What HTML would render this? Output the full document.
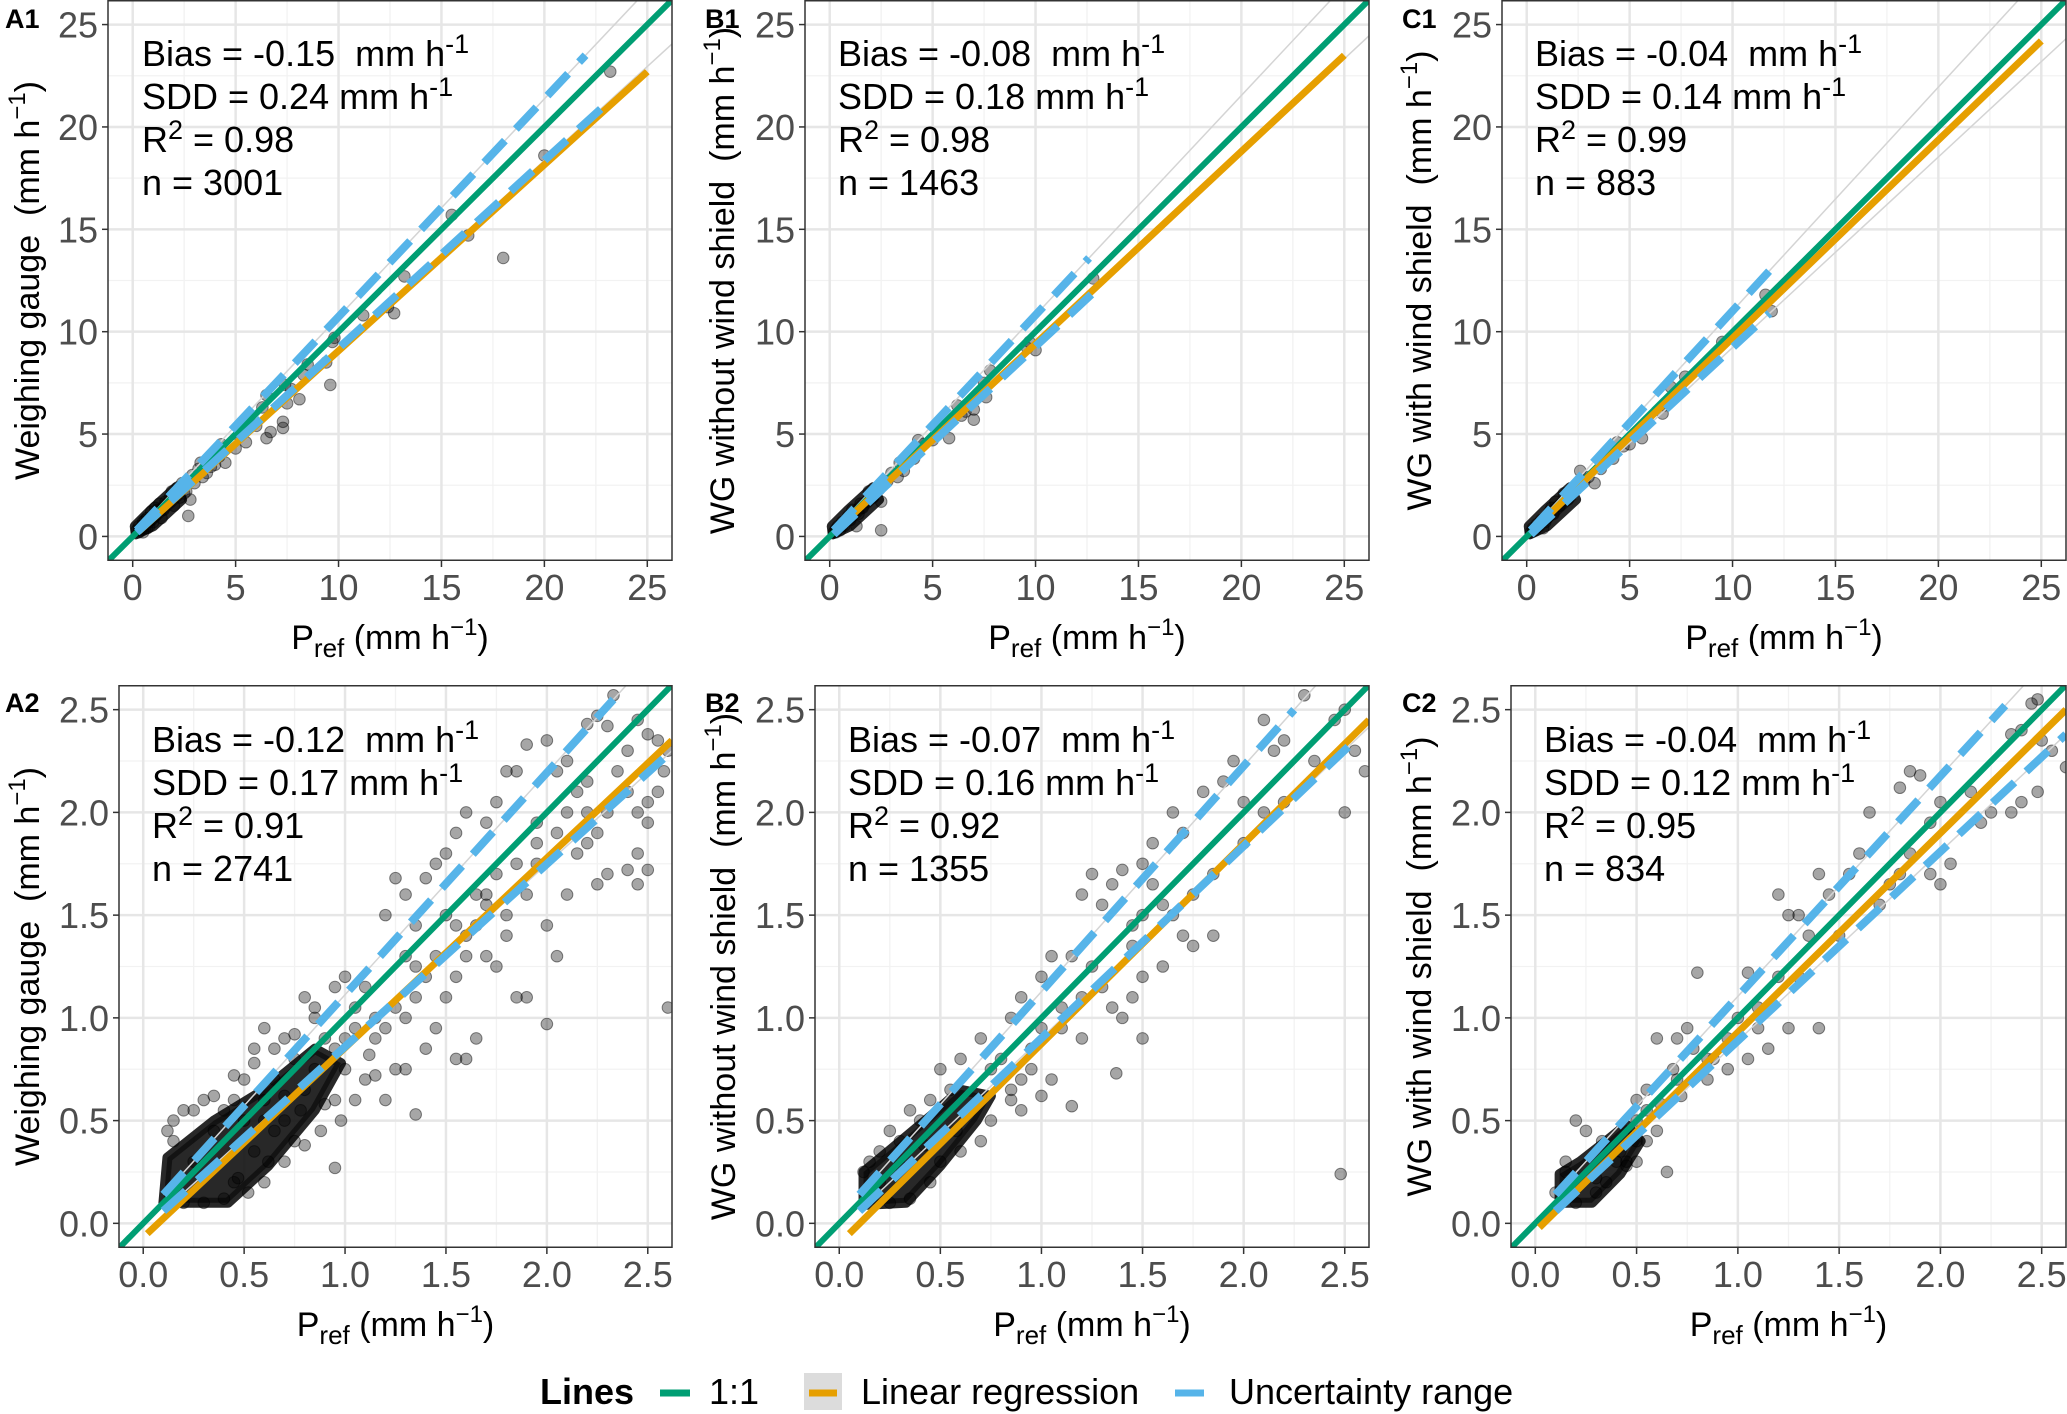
<!DOCTYPE html>
<html><head><meta charset="utf-8"><style>
html,body{margin:0;padding:0;background:#fff}
svg{display:block;font-family:"Liberation Sans",Arial,sans-serif}
text{white-space:pre}
</style></head><body>
<svg id="chart" width="2067" height="1414" viewBox="0 0 2067 1414" xmlns="http://www.w3.org/2000/svg"></svg>
<script>
// ---------- data ----------
const panelIds = ["A1","B1","C1","A2","B2","C2"];
const yTitles = ["Weighing gauge","WG without wind shield","WG with wind shield","Weighing gauge","WG without wind shield","WG with wind shield"];
const biasValues = ["-0.15","-0.08","-0.04","-0.12","-0.07","-0.04"];
const sddValues = ["0.24","0.18","0.14","0.17","0.16","0.12"];
const r2Values = ["0.98","0.98","0.99","0.91","0.92","0.95"];
const nValues = ["3001","1463","883","2741","1355","834"];
const topTicks = [0,5,10,15,20,25];
const topTickLabels = ["0","5","10","15","20","25"];
const botTicks = [0,0.5,1,1.5,2,2.5];
const botTickLabels = ["0.0","0.5","1.0","1.5","2.0","2.5"];
// regression lines [x0,y0,x1,y1]
const regA1=[0.3,0.25,25,22.7], regB1=[0.3,0.3,25,23.5], regC1=[0.3,0.3,25,24.2];
const regA2=[0.02,-0.05,2.62,2.35], regB2=[0.05,-0.05,2.62,2.45], regC2=[0.02,-0.02,2.62,2.5];
// uncertainty upper / lower [x0,y0,x1,y1]
const upA1=[0.2,0.3,22,23.5], loA1=[0.2,0.2,23.2,21.3];
const upB1=[0.2,0.3,12.6,13.6], loB1=[0.2,0.1,12.8,11.9];
const upC1=[0.2,0.3,12,13.2], loC1=[0.2,0.1,11.8,10.9];
const upA2=[0.1,0.14,2.33,2.55], loA2=[0.1,0.06,2.62,2.3];
const upB2=[0.1,0.14,2.25,2.5], loB2=[0.1,0.06,2.55,2.35];
const upC2=[0.1,0.14,2.32,2.52], loC2=[0.1,0.06,2.62,2.38];
// scatter points (flat x,y pairs)
const ptsA1=[23.2,22.7,20,18.6,18,13.6,15.5,15.7,16.3,14.7,13.2,12.7,12.7,10.9,12.4,11.2,11.2,10.8,9.8,9.7,9.7,9.5,9.6,7.4,9.4,8.5,8.5,8.4,8.3,7.9,8.1,6.7,7.7,7.2,7.4,7.4,7.5,6.5,7.3,5.6,7.3,5.3,6.7,5.1,6.5,4.8,6.3,6.3,6.5,6.9,6,5.4,5.7,5.6,5.5,4.6,5,4.3,4.5,3.6,4.2,3.9,3.8,3.4,3.4,2.9,3.2,3.3,2.7,1,2.8,1.8,2.5,2.1,2.9,3,2.2,2.4,2,1.5,1.8,1.9,1.5,1.3,1.3,1.6,1.1,1,1,0.7,0.9,1.2,0.8,0.5,0.7,0.9,0.6,0.4,0.5,0.7,0.4,0.3,0.3,0.5,0.3,0.2,0.2,0.3,1.2,1.3,1.6,1.7,2.3,1.9,3,2.6,3.6,3.1,4,3.5,1.4,0.9,0.5,0.2,0.6,0.8,0.7,0.4,0.9,0.8,1.1,1.4,1.9,2.2,2.4,2.6,2.6,2.2,3.3,3.6,4.3,4.5,5.2,4.9,0.35,0.35,0.45,0.5,0.55,0.55,0.8,0.8,1,1];
const ptsB1=[12.8,12.6,9.7,9.5,10,9.1,9.6,9.2,7.8,8.1,7.5,7.5,7.6,6.8,7,6.2,7,5.7,6.6,6.1,6.4,5.9,6.2,6.4,5.8,4.8,5,4.7,4.5,4.5,4.3,4.7,4.1,3.8,3.6,3.2,3.4,3.6,3,3.1,2.5,0.3,2.5,1.7,2.4,2.3,2.1,1.9,1.9,2.2,1.6,1.4,1.5,1.6,1.3,0.5,1.2,1.2,1,0.8,0.9,1,0.7,0.5,0.6,0.7,0.5,0.3,0.4,0.5,0.3,0.2,0.3,0.35,0.2,0.2,1.1,1.3,1.4,1.1,1.8,1.7,2.2,2.1,2.8,2.7,3.3,2.9,0.8,0.8,0.6,0.5,0.45,0.45];
const ptsC1=[11.6,11.8,11.9,11,9.5,9.5,7.7,7.8,7,7.3,6.7,6.4,6.6,6,5.6,4.8,5,4.5,4.7,4.4,4.4,4.6,4.2,3.8,3.6,3.3,3.3,2.6,2.6,3.2,2.4,2.3,2.2,2.1,2,1.8,1.8,2.1,1.6,1.5,1.4,1.7,1.3,1.1,1.1,1.2,1,0.9,0.9,0.7,0.7,0.8,0.6,0.5,0.5,0.6,0.4,0.3,0.3,0.4,0.2,0.2,0.8,0.4,1.2,1.4,2.8,2.7,3,2.9,0.5,0.45,0.35,0.35];
const ptsA2=[2.33,2.57,2.25,2.47,2.2,2.43,2.3,2.42,2.45,2.45,2.5,2.38,2.55,2.35,2.6,2.3,2.58,2.2,2.55,2.1,2.5,2.05,2.45,2,2.5,1.95,2.45,1.8,2.4,1.72,2.5,1.72,2.45,1.65,2.6,1.05,2.3,1.7,2.25,1.65,2.2,1.85,2.15,2.1,2.1,2.25,2.05,2.2,2,2.35,1.95,1.95,1.9,2.33,1.85,2.2,1.8,2.2,1.75,2.05,1.7,1.95,1.6,2,1.55,1.9,1.5,1.8,1.45,1.75,1.4,1.68,1.25,1.68,1.2,1.5,1.3,1.6,1.35,1.45,1.5,1.5,1.6,1.3,1.7,1.55,1.75,1.25,1.8,1.4,1.9,1.6,2,1.45,2.05,1.3,2.1,1.6,2.15,1.8,1.85,1.1,1.9,1.1,2,0.97,1.65,0.9,1.55,0.8,1.45,0.95,1.4,0.85,1.6,0.8,1.3,0.75,1.2,0.6,1.1,0.7,1,0.75,0.95,0.6,0.9,0.58,1.35,0.53,1.25,0.75,1.15,0.9,1.05,1.05,1.1,1.15,1,1.2,0.9,0.9,0.85,1,0.8,1.1,0.75,0.8,0.7,0.9,0.6,0.95,0.55,0.85,0.5,0.7,0.45,0.6,0.4,0.55,0.5,0.5,0.6,0.6,0.65,0.45,0.7,0.5,0.8,0.65,0.75,0.4,0.55,0.35,0.45,0.2,0.3,0.6,0.2,0.55,0.15,0.5,0.12,0.45,0.25,0.3,0.35,0.45,1.4,1.2,1.5,1.1,1.7,1.6,1.8,1.5,2.2,2,2.35,2.2,2.4,2.3,1.95,1.75,1.65,1.45,1.25,1.05,1.15,1,1,0.9,0.95,0.85,0.85,0.75,0.65,0.7,1.05,0.95,1.3,1.3,0.47,0.22,0.62,0.3,0.95,0.27,1.55,1.2,1.7,1.3,2.25,1.9,1.35,1.1,0.7,0.62,0.78,0.55,0.6,0.5,1.12,0.82,1.2,0.95,1.3,1.0,1.35,1.25,1.45,1.3,1.55,1.45,1.6,1.4,1.65,1.6,1.75,1.7,1.85,1.75,1.95,1.85,2.05,1.9,2.1,2.0,2.2,2.15,2.3,2.0,2.4,2.1,1.05,0.6,1.15,0.72,0.88,0.45,0.98,0.5,0.8,0.38,0.7,0.3,0.6,0.2,0.52,0.15,0.4,0.12,0.3,0.1,0.2,0.1,0.15,0.4,0.25,0.55,0.35,0.62,0.45,0.72,0.55,0.78,0.65,0.85,0.75,0.92,0.85,1.05,0.95,1.15];
const ptsB2=[2.3,2.57,2.5,2.5,2.45,2.45,2.55,2.3,2.5,2,2.6,2.2,2.2,2.35,2.1,2.45,2.15,2.3,1.95,2.25,1.9,2.15,2,2.05,2.1,2.0,1.8,2.1,1.7,1.9,1.65,2.0,1.55,1.85,1.5,1.75,1.4,1.72,1.35,1.65,1.25,1.7,1.2,1.6,1.3,1.55,1.5,1.5,1.6,1.55,1.45,1.45,1.7,1.4,1.75,1.35,1.85,1.4,1.6,1.25,1.5,1.2,1.45,1.1,1.35,1.05,1.4,1.0,1.3,1.15,1.15,1.3,1.05,1.3,1.0,1.2,0.9,1.1,0.85,1.0,0.95,0.85,1.1,0.95,1.2,0.9,1.15,0.57,1.37,0.73,1.5,0.9,2.48,0.24,0.8,0.8,0.75,0.75,0.7,0.9,0.6,0.8,0.55,0.65,0.5,0.75,0.45,0.6,0.4,0.5,0.35,0.55,0.3,0.4,0.25,0.45,0.2,0.35,0.15,0.3,0.12,0.25,0.6,0.35,0.7,0.4,0.75,0.5,0.85,0.6,0.9,0.7,0.5,0.3,0.45,0.2,0.35,0.12,0.25,0.1,0.9,0.55,1.0,0.62,1.05,0.7,0.65,0.55,0.58,0.45,0.42,0.38,0.3,0.28,0.2,0.2,1.0,0.95,1.1,1.05,1.2,1.1,1.25,1.25,1.45,1.35,1.55,1.65,1.65,1.5,1.75,1.6,1.85,1.7,2.0,1.85,2.2,2.05,2.35,2.25,0.95,0.75,0.85,0.65];
const ptsC2=[2.48,2.55,2.45,2.53,2.4,2.4,2.35,2.38,2.5,2.35,2.55,2.3,2.62,2.22,2.48,2.1,2.4,2.05,2.35,2.0,2.25,2.0,2.2,1.95,2.15,2.1,2.0,2.05,1.95,1.95,1.95,1.7,2.0,1.65,2.05,1.75,1.85,1.8,1.8,1.7,1.75,1.65,1.85,2.2,1.9,2.18,1.8,2.12,1.65,2.0,1.6,1.8,1.55,1.7,1.45,1.6,1.4,1.7,1.3,1.5,1.25,1.5,1.2,1.6,1.35,1.4,1.2,1.2,1.05,1.22,0.8,1.22,1.0,1.0,1.1,0.95,1.25,0.95,1.4,0.95,1.15,0.85,1.05,0.8,0.95,0.75,0.85,0.7,0.75,0.95,0.7,0.9,0.6,0.9,0.5,0.6,0.55,0.65,0.6,0.45,0.65,0.25,0.5,0.4,0.45,0.3,0.35,0.2,0.3,0.15,0.2,0.1,0.15,0.3,0.25,0.45,0.2,0.5,0.15,0.25,0.1,0.15,0.4,0.3,0.5,0.5,0.55,0.55,0.7,0.7,0.85,0.8,0.95,0.9,1.1,1.05,1.3,1.2,1.5,1.4,1.7,1.55,0.3,0.22,0.42,0.35,0.33,0.4,0.45,0.28,0.62,0.58,0.72,0.62,0.68,0.75,0.78,0.85,0.88,0.8,0.55,0.4,0.5,0.3];
// dense overplotted core (outline, data coords)
const coreA2=[0.1,0.1,0.42,0.1,0.62,0.28,0.85,0.55,0.98,0.78,0.85,0.85,0.6,0.65,0.35,0.5,0.12,0.32];
const coreB2=[0.12,0.09,0.33,0.1,0.5,0.28,0.68,0.5,0.75,0.62,0.6,0.65,0.45,0.52,0.28,0.38,0.12,0.25];
const coreC2=[0.12,0.1,0.28,0.1,0.42,0.24,0.52,0.4,0.45,0.48,0.35,0.4,0.22,0.3,0.12,0.24];
const coreTop=[0.15,0.1,1.0,0.5,2.4,1.8,2.1,2.4,0.9,1.3,0.1,0.5];

// ---------- drawing ----------
const NS="http://www.w3.org/2000/svg";
const svg=document.getElementById('chart');
function mk(tag,attrs,parent){const e=document.createElementNS(NS,tag);for(const k in attrs)e.setAttribute(k,attrs[k]);(parent||svg).appendChild(e);return e;}

const panels=[
 {id:0,L:108,R:672,T:0,B:561,lo:-1.2,hi:26.2,ticks:topTicks,labels:topTickLabels,minor:2.5,reg:regA1,up:upA1,lo2:loA1,pts:ptsA1,core:coreTop,ytx:27,tagX:5,tagY:28,stat:[142,66]},
 {id:1,L:805,R:1369,T:0,B:561,lo:-1.2,hi:26.2,ticks:topTicks,labels:topTickLabels,minor:2.5,reg:regB1,up:upB1,lo2:loB1,pts:ptsB1,core:coreTop,ytx:722,tagX:705,tagY:28,stat:[838,66]},
 {id:2,L:1502,R:2066,T:0,B:561,lo:-1.2,hi:26.2,ticks:topTicks,labels:topTickLabels,minor:2.5,reg:regC1,up:upC1,lo2:loC1,pts:ptsC1,core:coreTop,ytx:1419,tagX:1402,tagY:28,stat:[1535,66]},
 {id:3,L:119,R:672,T:685,B:1248,lo:-0.12,hi:2.62,ticks:botTicks,labels:botTickLabels,minor:0.25,reg:regA2,up:upA2,lo2:loA2,pts:ptsA2,core:coreA2,ytx:27,tagX:5,tagY:712,stat:[152,752]},
 {id:4,L:815,R:1369,T:685,B:1248,lo:-0.12,hi:2.62,ticks:botTicks,labels:botTickLabels,minor:0.25,reg:regB2,up:upB2,lo2:loB2,pts:ptsB2,core:coreB2,ytx:723,tagX:705,tagY:712,stat:[848,752]},
 {id:5,L:1511,R:2066,T:685,B:1248,lo:-0.12,hi:2.62,ticks:botTicks,labels:botTickLabels,minor:0.25,reg:regC2,up:upC2,lo2:loC2,pts:ptsC2,core:coreC2,ytx:1419,tagX:1402,tagY:712,stat:[1544,752]}
];

panels.forEach(p=>{
  const i=p.id;
  const g=mk('g',{});
  
  
  const sx=v=>p.L+(v-p.lo)/(p.hi-p.lo)*(p.R-p.L);
  const sy=v=>p.B-(v-p.lo)/(p.hi-p.lo)*(p.B-p.T);
  const clipId='clip'+i;
  const cp=mk('clipPath',{id:clipId},g);mk('rect',{x:p.L,y:p.T,width:p.R-p.L,height:p.B-p.T},cp);
  const grid=mk('g',{},g);
  
  
  for(let v=p.ticks[0]+p.minor; v<=p.hi; v+=p.minor*2){
    mk('line',{x1:sx(v),x2:sx(v),y1:p.T,y2:p.B,stroke:'#f2f2f2','stroke-width':1.3},grid);
    mk('line',{y1:sy(v),y2:sy(v),x1:p.L,x2:p.R,stroke:'#f2f2f2','stroke-width':1.3},grid);
  }
  p.ticks.forEach(v=>{
    mk('line',{x1:sx(v),x2:sx(v),y1:p.T,y2:p.B,stroke:'#e6e6e6','stroke-width':2.5},grid);
    mk('line',{y1:sy(v),y2:sy(v),x1:p.L,x2:p.R,stroke:'#e6e6e6','stroke-width':2.5},grid);
  });
  const plot=mk('g',{'clip-path':'url(#'+clipId+')'},g);
  const cpts=[];for(let k=0;k<p.core.length;k+=2)cpts.push(sx(p.core[k])+','+sy(p.core[k+1]));
  const core=mk('polygon',{points:cpts.join(' '),fill:'#111','fill-opacity':0.9,stroke:'#111','stroke-width':10,'stroke-linejoin':'round','stroke-opacity':0.9},plot);
  
  
  for(let k=0;k<p.pts.length;k+=2){
    const c=mk('circle',{cx:sx(p.pts[k]),cy:sy(p.pts[k+1]),r:5.8,fill:'#000','fill-opacity':0.35,stroke:'#000','stroke-opacity':0.45,'stroke-width':1},plot);
    
    
  }
  [p.up,p.lo2].forEach(a=>{
    const s=(a[3]-a[1])/(a[2]-a[0]);
    mk('line',{x1:sx(a[0]),y1:sy(a[1]),x2:sx(p.hi),y2:sy(a[1]+s*(p.hi-a[0])),stroke:'#d4d4d4','stroke-width':1.5},plot);
  });
  const one=mk('line',{x1:sx(p.lo),y1:sy(p.lo),x2:sx(p.hi),y2:sy(p.hi),stroke:'#009E73','stroke-width':6},plot);
  
  
  const r=p.reg;
  const reg=mk('line',{x1:sx(r[0]),y1:sy(r[1]),x2:sx(r[2]),y2:sy(r[3]),stroke:'#E69F00','stroke-width':7},plot);
  
  
  [p.up,p.lo2].forEach((a,j)=>{
    const u=mk('line',{x1:sx(a[0]),y1:sy(a[1]),x2:sx(a[2]),y2:sy(a[3]),stroke:'#56B4E9','stroke-width':8,'stroke-dasharray':'30 16'},plot);
    
    
  });
  mk('rect',{x:p.L,y:p.T+0.75,width:p.R-p.L,height:p.B-p.T-1.5,fill:'none',stroke:'#333','stroke-width':1.5},g);
  const ax=mk('g',{},g);
  
  
  p.ticks.forEach((v,k)=>{
    mk('line',{x1:sx(v),x2:sx(v),y1:p.B,y2:p.B+6,stroke:'#333','stroke-width':1.5},ax);
    mk('line',{y1:sy(v),y2:sy(v),x1:p.L-6,x2:p.L,stroke:'#333','stroke-width':1.5},ax);
    const tx=mk('text',{x:sx(v),y:p.B+39,'font-size':36,fill:'#4d4d4d','text-anchor':'middle'},ax);tx.textContent=p.labels[k];
    
    
    const ty=mk('text',{x:p.L-10,y:sy(v)+13,'font-size':36,fill:'#4d4d4d','text-anchor':'end'},ax);ty.textContent=p.labels[k];
    
    
  });
  const xt=mk('text',{x:(p.L+p.R)/2,y:p.B+88,'font-size':34,fill:'#000','text-anchor':'middle'},g);
  
  
  xt.innerHTML='P<tspan font-size="26" dy="8">ref</tspan><tspan dy="-8"> (mm h</tspan><tspan font-size="24" dy="-14">−1</tspan><tspan dy="14">)</tspan>';
  const cy=(p.T+p.B)/2;
  const yt=mk('text',{x:p.ytx,y:cy,'font-size':34,fill:'#000','text-anchor':'middle',transform:'rotate(-90 '+p.ytx+' '+cy+')',dy:12},g);
  
  
  yt.innerHTML=yTitles[i]+'  (mm h<tspan font-size="24" dy="-14">−1</tspan><tspan dy="14">)</tspan>';
  const tg=mk('text',{x:p.tagX,y:p.tagY,'font-size':27,'font-weight':'bold',fill:'#000'},g);
  tg.textContent=panelIds[i];
  
  
  const st=mk('g',{'font-size':36,fill:'#000'},g);
  
  
  const [x0,y0]=p.stat;
  mk('text',{x:x0,y:y0},st).innerHTML='Bias = '+biasValues[i]+'  mm h<tspan font-size="27" dy="-13">-1</tspan>';
  mk('text',{x:x0,y:y0+43},st).innerHTML='SDD = '+sddValues[i]+' mm h<tspan font-size="27" dy="-13">-1</tspan>';
  mk('text',{x:x0,y:y0+86},st).innerHTML='R<tspan font-size="27" dy="-13">2</tspan><tspan dy="13"> = '+r2Values[i]+'</tspan>';
  mk('text',{x:x0,y:y0+129},st).textContent='n = '+nValues[i];
});
// legend
const lg=mk('g',{});


const lt=mk('text',{x:540,y:1404,'font-size':36,'font-weight':'bold'},lg);lt.textContent='Lines';


const e1=mk('line',{x1:660,x2:690,y1:1393,y2:1393,stroke:'#009E73','stroke-width':7},lg);


mk('text',{x:709,y:1404,'font-size':36},lg).textContent='1:1';
mk('rect',{x:804,y:1373,width:38,height:37,fill:'#dcdcdc'},lg);
const e2=mk('line',{x1:809,x2:837,y1:1393,y2:1393,stroke:'#E69F00','stroke-width':7},lg);


mk('text',{x:861,y:1404,'font-size':36},lg).textContent='Linear regression';
const e3=mk('line',{x1:1175,x2:1204,y1:1393,y2:1393,stroke:'#56B4E9','stroke-width':7},lg);


mk('text',{x:1229,y:1404,'font-size':36},lg).textContent='Uncertainty range';
</script>
</body></html>
